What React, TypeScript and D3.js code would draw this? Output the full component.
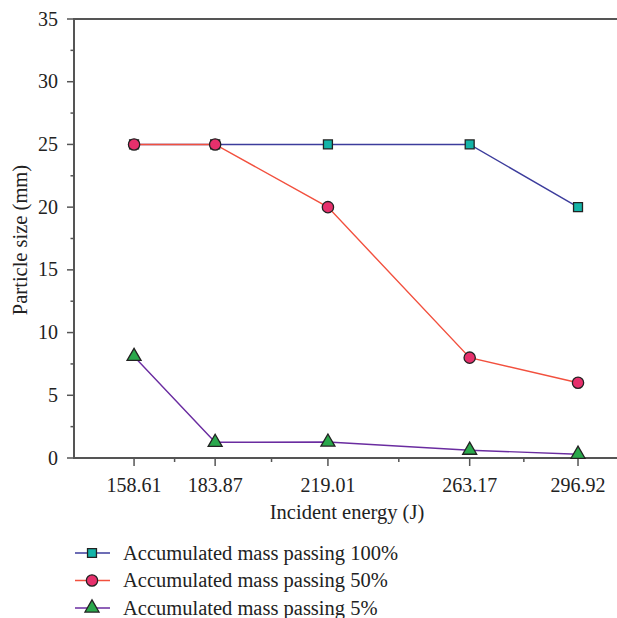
import React, { useRef, useEffect } from 'react';
import * as d3 from 'd3';

const energies = [158.61, 183.87, 219.01, 263.17, 296.92];
const pass100 = [25, 25, 25, 25, 20];
const pass50 = [25, 25, 20, 8, 6];
const pass5 = [8.1, 1.25, 1.27, 0.62, 0.3];
const yTicks = [0, 5, 10, 15, 20, 25, 30, 35];
const seriesNames = [
  'Accumulated mass passing 100%',
  'Accumulated mass passing 50%',
  'Accumulated mass passing 5%',
];

const FONT = 'Liberation Serif';

function App() {
  const chartRef = useRef<HTMLDivElement>(null);

  useEffect(() => {
    const width = 617;
    const height = 618;

    const svg = d3
      .select(chartRef.current)
      .append('svg')
      .attr('width', width)
      .attr('height', height)
      .style('font-family', FONT)
      .style('position', 'absolute')
      .style('left', '0px')
      .style('top', '0px');

    const x = d3.scaleLinear().domain([139.9, 310]).range([74, 620]);
    const y = d3.scaleLinear().domain([0, 35]).range([458, 19]);

    const axisColor = '#555';
    const textColor = '#222';

    // top + bottom + left axis lines
    svg.append('line')
      .attr('x1', 74).attr('x2', 620)
      .attr('y1', y(35)).attr('y2', y(35))
      .attr('stroke', axisColor).attr('stroke-width', 2);
    svg.append('line')
      .attr('x1', 74).attr('x2', 620)
      .attr('y1', y(0)).attr('y2', y(0))
      .attr('stroke', axisColor).attr('stroke-width', 2);
    svg.append('line')
      .attr('x1', 74).attr('x2', 74)
      .attr('y1', y(35) - 1).attr('y2', y(0) + 1)
      .attr('stroke', axisColor).attr('stroke-width', 2);

    // y ticks
    svg.selectAll('.ytick')
      .data(yTicks)
      .enter()
      .append('line')
      .attr('x1', 67).attr('x2', 74)
      .attr('y1', (d) => y(d)).attr('y2', (d) => y(d))
      .attr('stroke', axisColor).attr('stroke-width', 1.5);
    svg.selectAll('.yminor')
      .data(d3.range(2.5, 35, 5))
      .enter()
      .append('line')
      .attr('x1', 70.5).attr('x2', 74)
      .attr('y1', (d) => y(d)).attr('y2', (d) => y(d))
      .attr('stroke', axisColor).attr('stroke-width', 1.5);
    svg.selectAll('.ylabel')
      .data(yTicks)
      .enter()
      .append('text')
      .attr('x', 58)
      .attr('y', (d) => y(d))
      .attr('dy', '0.33em')
      .attr('text-anchor', 'end')
      .attr('font-size', 20)
      .attr('fill', textColor)
      .text((d) => d);

    // x ticks
    svg.selectAll('.xtick')
      .data(energies)
      .enter()
      .append('line')
      .attr('x1', (d) => x(d)).attr('x2', (d) => x(d))
      .attr('y1', 458).attr('y2', 466)
      .attr('stroke', axisColor).attr('stroke-width', 1.5);
    const mids = energies.slice(1).map((e, i) => (e + energies[i]) / 2);
    svg.selectAll('.xminor')
      .data(mids)
      .enter()
      .append('line')
      .attr('x1', (d) => x(d)).attr('x2', (d) => x(d))
      .attr('y1', 458).attr('y2', 462)
      .attr('stroke', axisColor).attr('stroke-width', 1.5);
    svg.selectAll('.xlabel')
      .data(energies)
      .enter()
      .append('text')
      .attr('x', (d) => x(d))
      .attr('y', 492)
      .attr('text-anchor', 'middle')
      .attr('font-size', 20)
      .attr('fill', textColor)
      .text((d) => d.toFixed(2));

    svg.append('text')
      .attr('x', 347)
      .attr('y', 519)
      .attr('text-anchor', 'middle')
      .attr('font-size', 20.5)
      .attr('fill', textColor)
      .text('Incident energy (J)');

    svg.append('text')
      .attr('transform', `translate(27, 240) rotate(-90)`)
      .attr('text-anchor', 'middle')
      .attr('font-size', 20.5)
      .attr('fill', textColor)
      .text('Particle size (mm)');

    const series = [
      { values: pass100, line: '#3c3c9c', fill: '#14b4a8', shape: d3.symbolSquare, size: 80 },
      { values: pass50, line: '#f2503e', fill: '#e6306c', shape: d3.symbolCircle, size: 100 },
      { values: pass5, line: '#6a2ca0', fill: '#2aa84c', shape: d3.symbolTriangle, size: 85 },
    ];

    const line = d3.line<number>()
      .x((d, i) => x(energies[i]))
      .y((d) => y(d));

    series.forEach((s) => {
      svg.append('path')
        .datum(s.values)
        .attr('d', line)
        .attr('fill', 'none')
        .attr('stroke', s.line)
        .attr('stroke-width', 1.4);
      svg.selectAll(null)
        .data(s.values)
        .enter()
        .append('path')
        .attr('d', d3.symbol().type(s.shape).size(s.size))
        .attr('transform', (d, i) => `translate(${x(energies[i])}, ${y(d)})`)
        .attr('fill', s.fill)
        .attr('stroke', '#222')
        .attr('stroke-width', 1.3);
    });

    // legend
    const legend = svg.append('g');
    series.forEach((s, i) => {
      const ly = 553 + i * 27.5;
      legend.append('line')
        .attr('x1', 75).attr('x2', 110)
        .attr('y1', ly).attr('y2', ly)
        .attr('stroke', s.line).attr('stroke-width', 1.4);
      legend.append('path')
        .attr('d', d3.symbol().type(s.shape).size(s.size))
        .attr('transform', `translate(92, ${ly})`)
        .attr('fill', s.fill)
        .attr('stroke', '#222')
        .attr('stroke-width', 1.3);
      legend.append('text')
        .attr('x', 123)
        .attr('y', ly)
        .attr('dy', '0.33em')
        .attr('font-size', 20.5)
        .attr('fill', textColor)
        .text(seriesNames[i]);
    });

    return () => {
      svg.remove();
    };
  }, []);

  return <div ref={chartRef}></div>;
}

export default App;
